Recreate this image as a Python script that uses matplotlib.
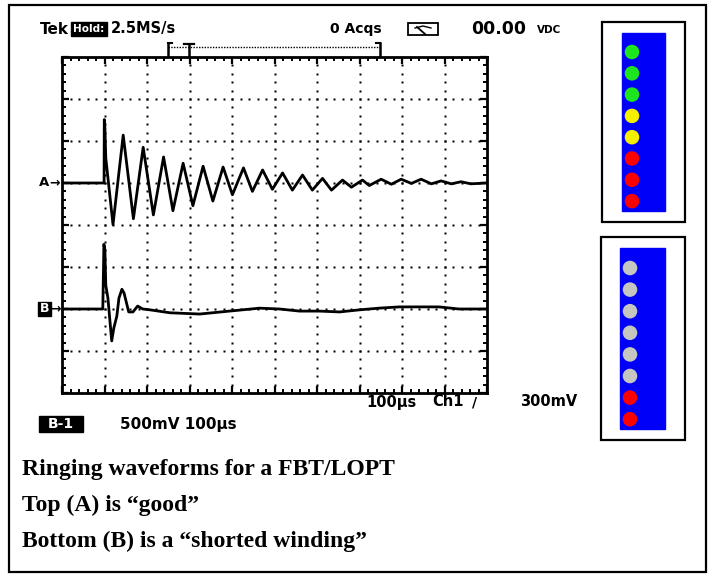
import matplotlib
matplotlib.use("Agg")
import matplotlib.pyplot as plt
import numpy as np
from matplotlib.patches import Rectangle
from matplotlib.ticker import MultipleLocator

# ---------------- data ----------------
# Trace A ("good" part): time in microseconds, volts in divisions relative to the A ground marker
a_time = [0, 99, 99.5, 101, 103, 120, 144, 168, 191, 215, 239, 261, 285, 308, 332, 355,
          379, 401, 427, 448, 472, 495, 519, 542, 566, 589, 613, 634, 660, 681, 707,
          723, 751, 775, 798, 822, 845, 869, 892, 916, 939, 962, 998]
a_volt = [0, 0, 1.51, 1.30, 0.60, -0.99, 1.14, -0.85, 0.85, -0.76, 0.62, -0.66, 0.47, -0.54, 0.40, -0.43,
          0.38, -0.28, 0.36, -0.20, 0.31, -0.15, 0.24, -0.17, 0.19, -0.17, 0.11, -0.17, 0.07, -0.10, 0.07,
          -0.06, 0.09, -0.03, 0.09, -0.01, 0.09, -0.02, 0.05, -0.02, 0.03, -0.02, 0.0]
# Trace B ("shorted winding")
b_time = [0, 96, 98.6, 101, 103, 108, 117, 122, 129, 134, 141, 146, 157, 167, 178, 190, 207,
          254, 324, 394, 465, 512, 559, 606, 653, 700, 746, 793, 840, 887, 934, 998]
b_volt = [0, 0, 1.54, 1.40, 0.57, 0.26, -0.76, -0.45, -0.17, 0.26, 0.47, 0.38, -0.07, -0.07, 0.07, 0.0, -0.02,
          -0.09, -0.12, -0.05, 0.02, 0.0, -0.05, -0.05, -0.07, -0.02, 0.02, 0.05, 0.05, 0.05, 0.0, 0.0]
a_ground = 1.0   # divisions
b_ground = -2.0

good_leds = ['#1ee61e', '#1ee61e', '#1ee61e', '#f5f000', '#f5f000', '#ff0000', '#ff0000', '#ff0000']
bad_leds = ['#c6c6c0', '#c6c6c0', '#c6c6c0', '#c6c6c0', '#c6c6c0', '#c6c6c0', '#ff0000', '#ff0000']

caption = ["Ringing waveforms for a FBT/LOPT",
           "Top (A) is \u201cgood\u201d",
           "Bottom (B) is a \u201cshorted winding\u201d"]

# ---------------- figure ----------------
W, H = 714, 578
fig = plt.figure(figsize=(W / 100, H / 100), dpi=100)
bg = fig.add_axes([0, 0, 1, 1])
bg.set_xlim(0, W)
bg.set_ylim(H, 0)
bg.axis('off')

# outer border
bg.add_patch(Rectangle((9, 5), 697, 567, fill=False, lw=1.6, ec='black'))

scope = dict(family='DejaVu Sans', weight='bold', color='black')

# header
bg.text(40, 29, "Tek", fontsize=11, va='center', ha='left', **scope)
bg.add_patch(Rectangle((71, 22), 36, 14, color='black'))
bg.text(89, 29.5, "Hold:", fontsize=7.5, va='center', ha='center', family='DejaVu Sans', weight='bold', color='white')
bg.text(111, 29, "2.5MS/s", fontsize=10.5, va='center', ha='left', **scope)
bg.text(330, 29, "0 Acqs", fontsize=10, va='center', ha='left', **scope)
# meter icon
bg.add_patch(Rectangle((408, 23), 30, 12, fill=False, lw=1.3, ec='black'))
bg.plot([415, 423, 431], [28, 26, 28], color='black', lw=1)
bg.plot([417, 425], [27, 34], color='black', lw=1.3)
bg.text(471, 29, "00.00", fontsize=12.5, va='center', ha='left', **scope)
bg.text(537, 30, "VDC", fontsize=7.5, va='center', ha='left', **scope)

# record window bracket
bg.plot([168, 168], [43, 56], color='black', lw=1.8)
bg.plot([168, 172], [43, 43], color='black', lw=1.5)
bg.plot([168, 380], [47, 47], color='black', lw=1, ls=(0, (1, 1)))
bg.plot([184, 194], [44, 44], color='black', lw=1.6)
bg.plot([189, 189], [44, 56], color='black', lw=1.8)
bg.plot([380, 380], [43, 56], color='black', lw=1.8)
bg.plot([376, 380], [43, 43], color='black', lw=1.5)

# ---------------- graticule ----------------
gx0, gx1, gy0, gy1 = 62, 487, 57, 393
ax = fig.add_axes([gx0 / W, 1 - gy1 / H, (gx1 - gx0) / W, (gy1 - gy0) / H])
ax.set_xlim(0, 1000)
ax.set_ylim(-4, 4)
ax.set_facecolor('white')
for s in ax.spines.values():
    s.set_linewidth(2.0)
ax.xaxis.set_major_locator(MultipleLocator(100))
ax.xaxis.set_minor_locator(MultipleLocator(20))
ax.yaxis.set_major_locator(MultipleLocator(1))
ax.yaxis.set_minor_locator(MultipleLocator(0.2))
ax.tick_params(which='both', direction='in', top=True, right=True, bottom=True, left=True,
               labelbottom=False, labelleft=False, color='black')
ax.tick_params(which='major', length=5, width=1.6)
ax.tick_params(which='minor', length=3, width=1.4)

# dotted grid
for k in range(1, 10):
    yy = np.arange(-3.8, 3.81, 0.2)
    ax.plot(np.full_like(yy, 100 * k), yy, ls='none', marker='s', ms=1.8, mfc='black', mec='none')
for r in range(-3, 4):
    xx = np.arange(20, 981, 20)
    ax.plot(xx, np.full_like(xx, r, dtype=float), ls='none', marker='s', ms=1.8, mfc='black', mec='none')

ax.plot(a_time, np.array(a_volt) + a_ground, color='black', lw=2.0, solid_joinstyle='round')
ax.plot(b_time, np.array(b_volt) + b_ground, color='black', lw=2.0, solid_joinstyle='round')

# ground markers
yA = gy0 + (4 - a_ground) * (gy1 - gy0) / 8
yB = gy0 + (4 - b_ground) * (gy1 - gy0) / 8
bg.text(39, yA, "A", fontsize=9.5, va='center', ha='left', **scope)
bg.text(49, yA, "\u2192", fontsize=9, va='center', ha='left', **scope)
bg.add_patch(Rectangle((38, yB - 7), 13, 14, color='black'))
bg.text(44.5, yB, "B", fontsize=9, va='center', ha='center', family='DejaVu Sans', weight='bold', color='white')
bg.text(50, yB, "\u2192", fontsize=9, va='center', ha='left', **scope)

# footer
bg.text(366, 402, "100\u00b5s", fontsize=10.5, va='center', ha='left', **scope)
bg.text(432, 402, "Ch1", fontsize=10.5, va='center', ha='left', **scope)
bg.text(472, 402, "/", fontsize=10, va='center', ha='left', **scope)
bg.text(520, 402, "300mV", fontsize=10.5, va='center', ha='left', **scope)
bg.add_patch(Rectangle((39, 416), 44, 16, color='black'))
bg.text(61, 424.5, "B-1", fontsize=10, va='center', ha='center', family='DejaVu Sans', weight='bold', color='white')
bg.text(120, 424, "500mV 100\u00b5s", fontsize=11, va='center', ha='left', **scope)

# caption
for i, line in enumerate(caption):
    bg.text(22, 475 + 36 * i, line, fontsize=17, va='baseline', ha='left',
            family='Liberation Serif', weight='bold', color='black')

# ---------------- indicator panels ----------------
bg.add_patch(Rectangle((602, 22), 83, 200, fill=False, lw=1.6, ec='black'))
bg.add_patch(Rectangle((622, 33), 43, 178, color='#0000f8'))
bg.scatter([632] * len(good_leds), 52 + 21.3 * np.arange(len(good_leds)), s=110,
           c=good_leds, edgecolors='none', zorder=3)

bg.add_patch(Rectangle((601, 237), 84, 203, fill=False, lw=1.6, ec='black'))
bg.add_patch(Rectangle((620, 248), 45, 181, color='#0000f8'))
bg.scatter([630] * len(bad_leds), 268 + 21.6 * np.arange(len(bad_leds)), s=110,
           c=bad_leds, edgecolors='none', zorder=3)

fig.savefig("out.png", dpi=100)
